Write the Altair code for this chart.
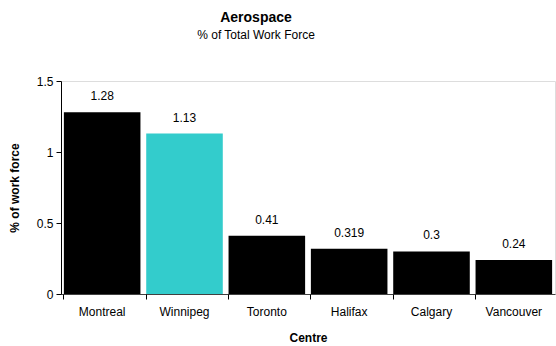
import altair as alt
import pandas as pd

centres = ["Montreal", "Winnipeg", "Toronto", "Halifax", "Calgary", "Vancouver"]
values = [1.28, 1.13, 0.41, 0.319, 0.3, 0.24]
labels = ["1.28", "1.13", "0.41", "0.319", "0.3", "0.24"]
colors = ["#000000", "#33CCCC", "#000000", "#000000", "#000000", "#000000"]

df = pd.DataFrame({"Centre": centres, "value": values, "label": labels, "color": colors})

FONT = "Liberation Sans"

xscale = alt.Scale(paddingInner=0.07, paddingOuter=0.035)
yscale = alt.Scale(domain=[0, 1.5])

bars = alt.Chart(df).mark_bar().encode(
    x=alt.X("Centre:N", sort=centres, scale=xscale,
            axis=alt.Axis(title="Centre", labelAngle=0, ticks=False, domain=True,
                          orient="bottom",
                          domainColor="#404040", labelFontSize=12, labelPadding=12,
                          labelFont=FONT, labelColor="#000000",
                          titleFont=FONT, titleFontSize=12, titleFontWeight="bold",
                          titlePadding=15, titleColor="#000000")),
    y=alt.Y("value:Q", scale=yscale,
            axis=alt.Axis(title="% of work force", values=[0, 0.5, 1, 1.5],
                          format="~g", grid=False, tickSize=5, tickColor="#000000",
                          domainColor="#000000", labelFontSize=12, labelFont=FONT,
                          labelColor="#000000", labelPadding=3,
                          titleFont=FONT, titleFontSize=12, titleFontWeight="bold",
                          titlePadding=15, titleColor="#000000")),
    color=alt.Color("color:N", scale=None),
)

ticks = alt.Chart(df).mark_tick(opacity=0).encode(
    x=alt.X("Centre:N", sort=centres, scale=xscale,
            axis=alt.Axis(title=None, labels=False, domain=False, ticks=True,
                          orient="bottom",
                          bandPosition=0, tickSize=5, tickColor="#000000")),
)

text = alt.Chart(df).mark_text(dy=-16, fontSize=12, font=FONT, color="#000000").encode(
    x=alt.X("Centre:N", sort=centres, scale=xscale, axis=None),
    y=alt.Y("value:Q", scale=yscale),
    text="label:N",
)

chart = alt.layer(bars, text, ticks).resolve_axis(x="independent").properties(
    width=494,
    height=213,
    padding={"left": 61, "top": 81, "right": 1, "bottom": 52},
    autosize=alt.AutoSizeParams(type="none"),
    title=alt.TitleParams(
        text="Aerospace",
        subtitle="% of Total Work Force",
        font=FONT, fontSize=14, fontWeight="bold", color="#000000",
        subtitleFont=FONT, subtitleFontSize=12, subtitleColor="#000000",
        subtitlePadding=5,
        anchor="middle", frame="group", offset=34, dx=-52,
    ),
).configure_view(stroke=None).configure(background="white")

chart.save("out.html", embed_options={"renderer": "svg", "actions": False})
